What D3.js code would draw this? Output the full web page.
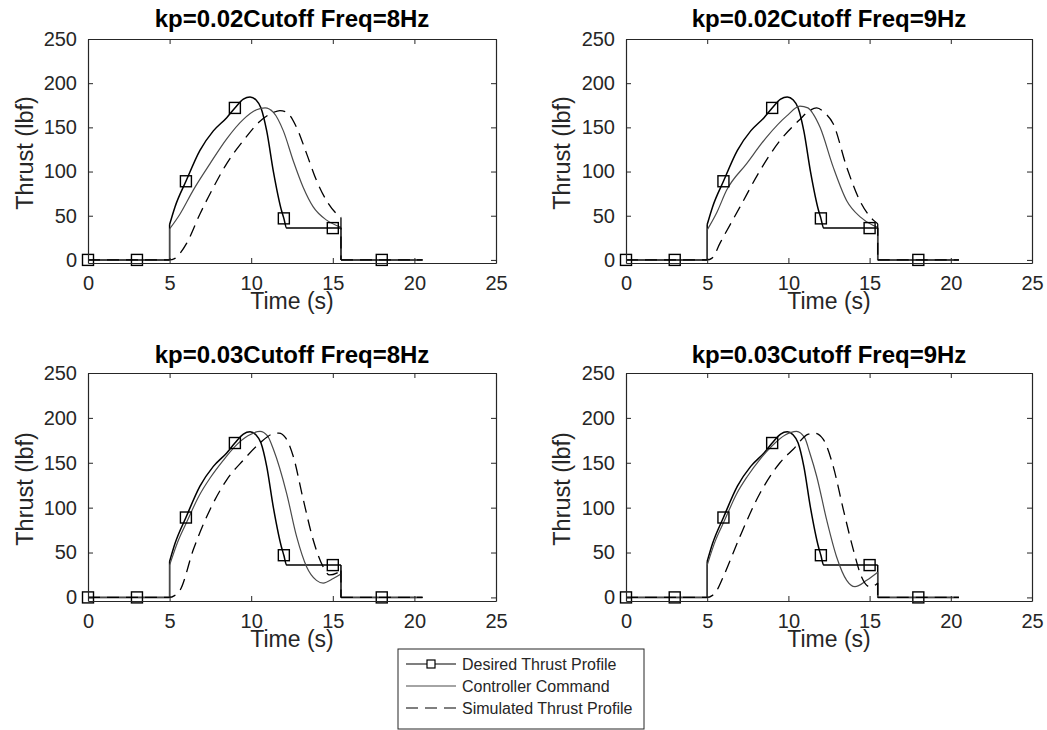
<!DOCTYPE html>
<html>
<head>
<meta charset="utf-8">
<script src="https://cdn.jsdelivr.net/npm/d3@7"></script>
<style>
  body { margin: 0; background: #fff; }
  text { font-family: "Liberation Sans", Arial, sans-serif; fill: #262626; }
</style>
</head>
<body>
<svg id="chart" width="1047" height="730"></svg>
<script>
// panel titles, left-to-right then top-to-bottom
const titles = ['kp=0.02Cutoff Freq=8Hz', 'kp=0.02Cutoff Freq=9Hz',
                'kp=0.03Cutoff Freq=8Hz', 'kp=0.03Cutoff Freq=9Hz'];
const xTicks = [0, 5, 10, 15, 20, 25];
const yTicks = [0, 50, 100, 150, 200, 250];
const legendNames = ['Desired Thrust Profile', 'Controller Command', 'Simulated Thrust Profile'];

// desired thrust profile (same in every panel)
const desiredT = [0, 5, 5, 5.33, 6, 6.86, 7.68, 8.5, 9, 9.52, 9.93, 10.3, 10.6, 10.95, 11.36, 11.87, 12, 12.17, 15.5, 15.5, 20.5];
const desiredV = [0, 0, 40, 60, 89, 124, 146, 161, 172, 182, 184.5, 181, 172, 146, 100, 55, 47, 36, 36, 0, 0];
const markerT = [0, 3, 6, 9, 12, 15, 18];
const markerV = [0, 0, 89, 172, 47, 36, 0];

// controller command
const cmd1T = [0, 5, 5, 5.64, 6.45, 7.48, 8.5, 9.52, 10.33, 10.85, 11.36, 11.97, 12.58, 13.19, 13.8, 14.62, 15.5, 15.5, 20.5];
const cmd1V = [0, 0, 35, 52, 79, 109, 137, 159, 170, 172, 167, 146, 112, 82, 60, 45, 37, 0, 0];
const cmd2T = [0, 5, 5, 5.6, 6.2, 7.43, 8.66, 9.9, 10.71, 11.2, 11.53, 11.95, 12.76, 13.59, 14.4, 15.23, 15.5, 15.5, 20.5];
const cmd2V = [0, 0, 34, 54, 79, 109, 139, 163, 174, 172, 165, 150, 105, 67, 49, 39, 37, 0, 0];
const cmd3T = [0, 5, 5, 5.5, 6.05, 6.8, 7.48, 8.3, 9, 9.8, 10.54, 11, 11.36, 12.17, 12.78, 13.4, 14, 14.41, 15.03, 15.5, 15.5, 20.5];
const cmd3V = [0, 0, 36, 62, 84, 113, 133, 153, 168, 180, 185, 180, 165, 116, 68, 34, 19, 16, 21, 26, 0, 0];
const cmd4T = [0, 5, 5, 5.5, 6.05, 6.8, 7.48, 8.3, 9, 9.8, 10.5, 11, 11.3, 11.74, 12.36, 12.97, 13.59, 14.1, 14.82, 15.5, 15.5, 20.5];
const cmd4V = [0, 0, 36, 63, 85, 115, 135, 155, 169, 181, 185, 178, 162, 135, 86, 45, 19, 12, 19, 28, 0, 0];

// simulated thrust profile
const sim1T = [0, 5, 5.3, 5.64, 6.05, 6.86, 7.68, 8.5, 9.52, 10.54, 11.36, 11.76, 12.17, 12.78, 13.4, 14, 14.62, 15.24, 15.5, 15.5, 20.5];
const sim1V = [0, 0, 1.5, 7.5, 19, 52, 82, 109, 135, 157, 167, 169, 167, 150, 120, 90, 67, 52, 48, 0, 0];
const sim2T = [0, 5, 5.3, 5.79, 7.02, 8.25, 9.48, 10.71, 11.3, 11.74, 12.2, 12.76, 13.59, 14.4, 15.23, 15.5, 15.5, 20.5];
const sim2V = [0, 0, 2, 19, 60, 101, 135, 159, 169, 172, 167, 154, 105, 67, 45, 41, 0, 0];
const sim3T = [0, 5, 5.3, 5.64, 6.45, 7.48, 8.5, 9.52, 10.54, 11.3, 11.7, 12.1, 12.58, 13.19, 13.8, 14.41, 14.8, 15.24, 15.5, 15.5, 20.5];
const sim3V = [0, 0, 2, 8, 53, 98, 131, 153, 172, 182, 183, 178, 157, 109, 64, 34, 25, 27, 30, 0, 0];
const sim4T = [0, 5, 5.3, 5.6, 5.99, 7.02, 8.25, 9.48, 10.3, 11.23, 11.6, 12.15, 12.76, 13.38, 14, 14.5, 15, 15.44, 15.5, 15.5, 20.5];
const sim4V = [0, 0, 2, 8, 23, 68, 116, 150, 165, 182, 183, 176, 146, 98, 53, 23, 12, 15, 16, 0, 0];

const cmdT = [cmd1T, cmd2T, cmd3T, cmd4T], cmdV = [cmd1V, cmd2V, cmd3V, cmd4V];
const simT = [sim1T, sim2T, sim3T, sim4T], simV = [sim1V, sim2V, sim3V, sim4V];

// layout
const colX = [88, 626], colW = [408, 406], ylabX = [33, 570];
const rowY = [39, 373], rowH = [224, 228], rowMin = [-3.5, -4];
const axisCol = '#262626', cmdCol = '#4a4a4a', dash = '12,7';

const svg = d3.select('#chart');

const zip = (T, V) => T.map((t, i) => [t, V[i]]);

// split a series into pieces at vertical jumps so the smooth curve is not confused by them
function runs(pts) {
  const out = [];
  let cur = [pts[0]];
  for (let i = 1; i < pts.length; i++) {
    if (pts[i][0] === pts[i - 1][0]) {
      out.push(cur);
      out.push([pts[i - 1], pts[i]]);
      cur = [pts[i]];
    } else cur.push(pts[i]);
  }
  out.push(cur);
  return out.filter(r => r.length > 1);
}

titles.forEach((title, k) => {
  const c = k % 2, r = Math.floor(k / 2);
  const x0 = colX[c], y0 = rowY[r], w = colW[c], h = rowH[r];

  const x = d3.scaleLinear().domain([0, 25]).range([0, w]);
  const y = d3.scaleLinear().domain([rowMin[r], 250]).range([h, 0]);

  const g = svg.append('g').attr('transform', `translate(${x0},${y0})`);

  const line = d3.line()
    .x(d => x(d[0]))
    .y(d => y(d[1]))
    .curve(d3.curveMonotoneX);
  const pathOf = pts => runs(pts).map(p => line(p)).join('');

  // series
  g.append('path')
    .attr('d', pathOf(zip(desiredT, desiredV)))
    .attr('fill', 'none').attr('stroke', '#000').attr('stroke-width', 1.5);
  g.append('path')
    .attr('d', pathOf(zip(cmdT[k], cmdV[k])))
    .attr('fill', 'none').attr('stroke', cmdCol).attr('stroke-width', 1.2);
  g.append('path')
    .attr('d', pathOf(zip(simT[k], simV[k])))
    .attr('fill', 'none').attr('stroke', '#000').attr('stroke-width', 1.3)
    .attr('stroke-dasharray', dash);

  g.selectAll('rect.mk')
    .data(zip(markerT, markerV))
    .enter().append('rect')
    .attr('class', 'mk')
    .attr('x', d => x(d[0]) - 5.5).attr('y', d => y(d[1]) - 5.5)
    .attr('width', 11).attr('height', 11)
    .attr('fill', 'none').attr('stroke', '#000').attr('stroke-width', 1.4);

  // axes box with inward ticks on all sides
  const bottom = d3.axisBottom(x).tickValues(xTicks).tickSizeInner(-5).tickSizeOuter(0).tickPadding(13);
  const top = d3.axisTop(x).tickValues(xTicks).tickSizeInner(-5).tickSizeOuter(0).tickFormat('');
  const left = d3.axisLeft(y).tickValues(yTicks).tickSizeInner(-5).tickSizeOuter(0).tickPadding(11);
  const right = d3.axisRight(y).tickValues(yTicks).tickSizeInner(-5).tickSizeOuter(0).tickFormat('');

  const gb = g.append('g').attr('transform', `translate(0,${h})`).call(bottom);
  g.append('g').call(top);
  const gl = g.append('g').call(left);
  g.append('g').attr('transform', `translate(${w},0)`).call(right);

  g.selectAll('.domain').attr('stroke', axisCol).attr('stroke-width', 1.2);
  g.selectAll('.tick line').attr('stroke', axisCol);
  gb.selectAll('text').attr('font-size', 20).attr('fill', axisCol);
  gl.selectAll('text').attr('font-size', 20).attr('fill', axisCol);
  g.selectAll('.tick text').style('font-family', '"Liberation Sans", Arial, sans-serif');

  g.append('text')
    .attr('x', w / 2).attr('y', r ? -10 : -12)
    .attr('text-anchor', 'middle')
    .attr('font-size', 24).attr('font-weight', 'bold')
    .style('fill', '#000')
    .text(title);

  g.append('text')
    .attr('x', w / 2).attr('y', h + 46)
    .attr('text-anchor', 'middle')
    .attr('font-size', 23)
    .text('Time (s)');

  g.append('text')
    .attr('transform', `translate(${ylabX[c] - x0},${h / 2 + 2}) rotate(-90)`)
    .attr('text-anchor', 'middle')
    .attr('font-size', 23.5)
    .text('Thrust (lbf)');
});

// legend
const lg = svg.append('g').attr('transform', 'translate(398,649)');
lg.append('rect')
  .attr('width', 246).attr('height', 80)
  .attr('fill', '#fff').attr('stroke', axisCol).attr('stroke-width', 1);

const rowYs = d3.scalePoint().domain(legendNames).range([15, 59]);
const styles = [
  { stroke: '#000', dash: null, marker: true },
  { stroke: cmdCol, dash: null, marker: false },
  { stroke: '#000', dash: dash, marker: false }
];
legendNames.forEach((name, i) => {
  const yy = rowYs(name);
  lg.append('line')
    .attr('x1', 8).attr('x2', 58).attr('y1', yy).attr('y2', yy)
    .attr('stroke', styles[i].stroke).attr('stroke-width', 1.2)
    .attr('stroke-dasharray', styles[i].dash);
  if (styles[i].marker) {
    lg.append('rect')
      .attr('x', 29).attr('y', yy - 4).attr('width', 8).attr('height', 8)
      .attr('fill', '#fff').attr('stroke', '#000').attr('stroke-width', 1.2);
  }
  lg.append('text')
    .attr('x', 64).attr('y', yy).attr('dy', '0.35em')
    .attr('font-size', 16)
    .text(name);
});
</script>
</body>
</html>
